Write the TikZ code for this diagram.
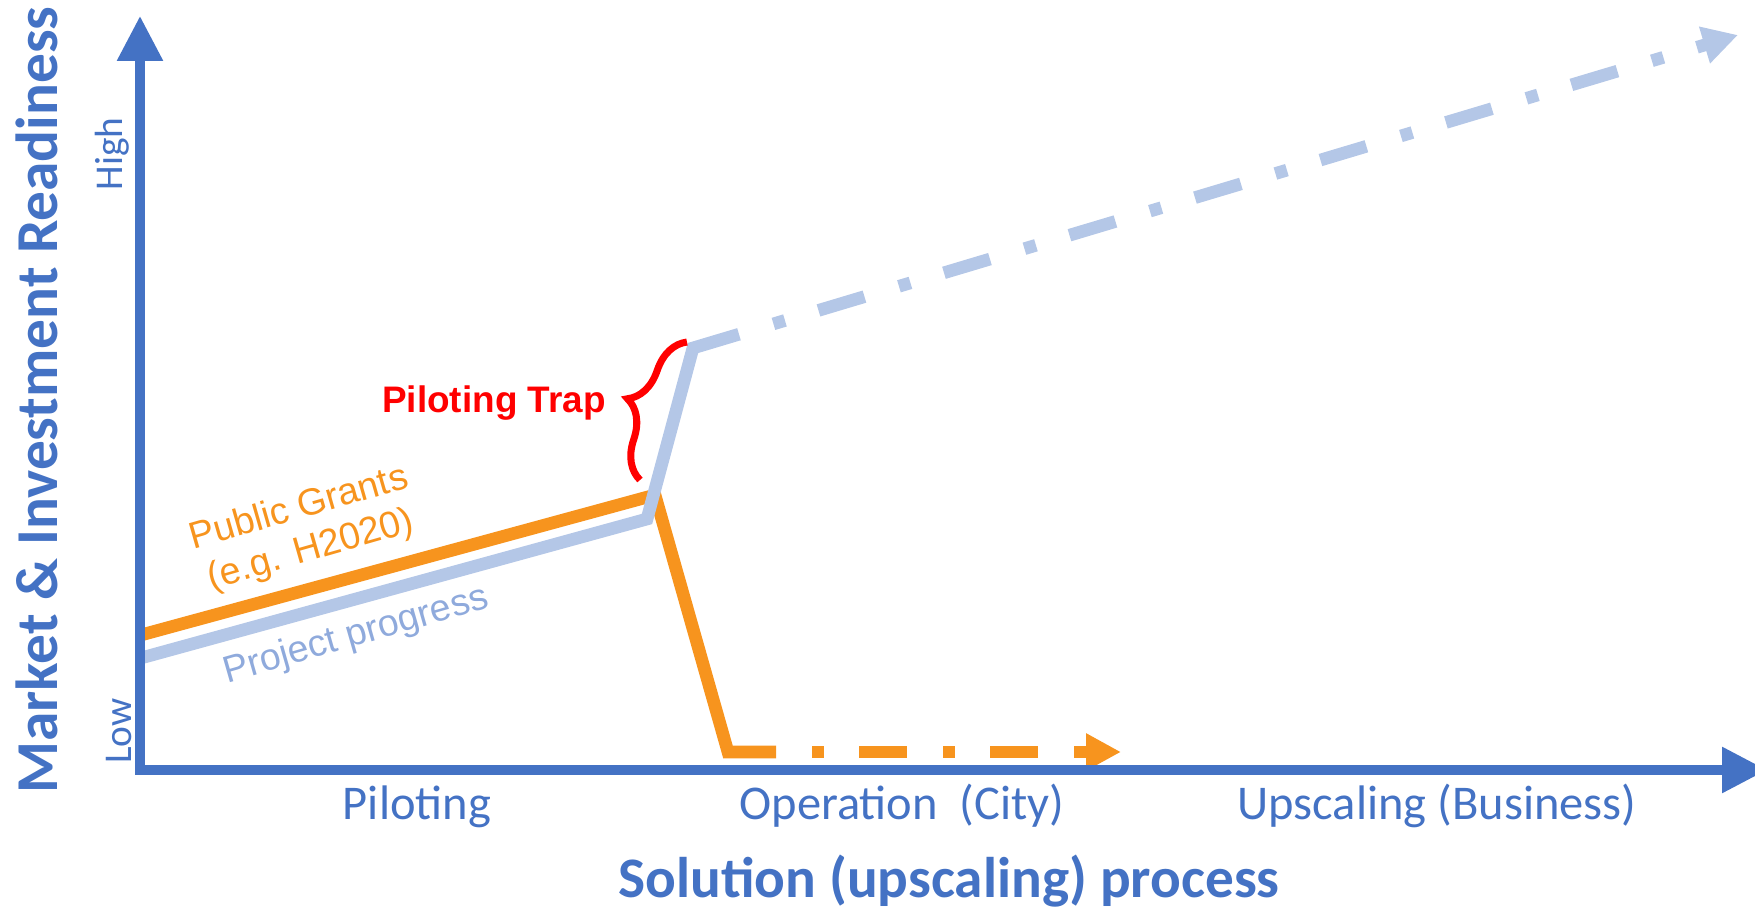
\documentclass[tikz,border=0pt]{standalone}
\usepackage{fontspec}
\setmainfont{Carlito}
\newfontfamily\arialfont{Liberation Sans}
\usetikzlibrary{arrows.meta,calc,decorations.pathreplacing}

\definecolor{axisblue}{RGB}{68,114,196}
\definecolor{grantorange}{RGB}{247,148,30}
\definecolor{progressblue}{RGB}{180,199,231}
\definecolor{progresstext}{RGB}{143,170,220}
\definecolor{trapred}{RGB}{255,0,0}

\begin{document}
\begin{tikzpicture}[x=0.1mm,y=-0.1mm,
    axis/.style={line width=2.6pt,axisblue,line join=miter,
      {Triangle[length=4.5mm,width=4.4mm]}-{Triangle[length=4.5mm,width=4.4mm]}},
    grantline/.style={line width=3.6pt,grantorange,line join=miter},
    progressline/.style={line width=3.6pt,progressblue,line join=miter},
    dashdot/.style={dash pattern=on 1.2mm off 3.5mm on 4.8mm off 3.6mm},
    linelabel/.style={font=\arialfont\fontsize{10.7pt}{12.4pt}\selectfont,rotate=16,inner sep=0pt,align=center},
    ticklabel/.style={font=\fontsize{11.2pt}{13pt}\selectfont,text=axisblue,rotate=90,anchor=base,inner sep=0pt},
    phaselabel/.style={font=\fontsize{13.8pt}{16pt}\selectfont,text=axisblue,anchor=base,inner sep=0pt},
    axistitle/.style={font=\bfseries\fontsize{16.3pt}{19pt}\selectfont,text=axisblue,anchor=base,inner sep=0pt}]
    \useasboundingbox (0,0) rectangle (1755,918);
    \clip (0,0) rectangle (1755,918);

    % public grants line
    \coordinate (g0) at (141,635);
    \coordinate (g1) at (655,495);
    \coordinate (g2) at (728,752);
    \coordinate (g3) at (776,752);
    \coordinate (g4) at (812,752);
    \coordinate (g5) at (1121,752);
    \draw[grantline] (g0) -- (g1) -- (g2) -- (g3);
    \draw[grantline,dashdot,-{Triangle[length=3.5mm,width=3.5mm]}] (g4) -- (g5);

    % project progress line
    \coordinate (p0) at (141,658);
    \coordinate (p1) at (647,519);
    \coordinate (p2) at (693,348);
    \coordinate (p5) at (1738,35);
    \coordinate (p3) at ($(p2)!0.044!(p5)$);
    \coordinate (p4) at ($(p2)!0.077!(p5)$);
    \draw[progressline] (p0) -- (p1) -- (p2) -- (p3);
    \draw[progressline,dashdot,-{Triangle[length=3.5mm,width=3.6mm]}] (p4) -- (p5);

    % axes
    \coordinate (ytip) at (140,16);
    \coordinate (origin) at (140,770);
    \coordinate (xtip) at (1767,770);
    \draw[axis] (ytip) -- (origin) -- (xtip);

    % piloting trap
    \coordinate (trapbot) at (640,480);
    \coordinate (traptop) at (687,342);
    \draw[trapred,line width=2pt,decorate,decoration={brace,amplitude=3.8mm}] (trapbot) -- (traptop);
    \node[font=\arialfont\bfseries\fontsize{10.5pt}{12pt}\selectfont,text=trapred,anchor=base,inner sep=0pt] (trap) at (494,413) {Piloting Trap};

    \node[linelabel,text=grantorange] (grants) at (305,530) {Public Grants\\(e.g. H2020)};
    \node[linelabel,text=progresstext] (progress) at (356,636) {Project progress};

    \node[ticklabel] (high) at (122,154) {High};
    \node[ticklabel] (low) at (132,731) {Low};

    \node[phaselabel] (piloting) at (417,820) {Piloting};
    \node[phaselabel] (operation) at (902,820) {Operation\ \ (City)};
    \node[phaselabel] (upscaling) at (1437,820) {Upscaling (Business)};

    \node[axistitle] (xtitle) at (949,898) {Solution (upscaling) process};
    \node[axistitle,font=\bfseries\fontsize{16.9pt}{19pt}\selectfont,rotate=90] (ytitle) at (58,400) {Market \& Investment Readiness};
\end{tikzpicture}
\end{document}
